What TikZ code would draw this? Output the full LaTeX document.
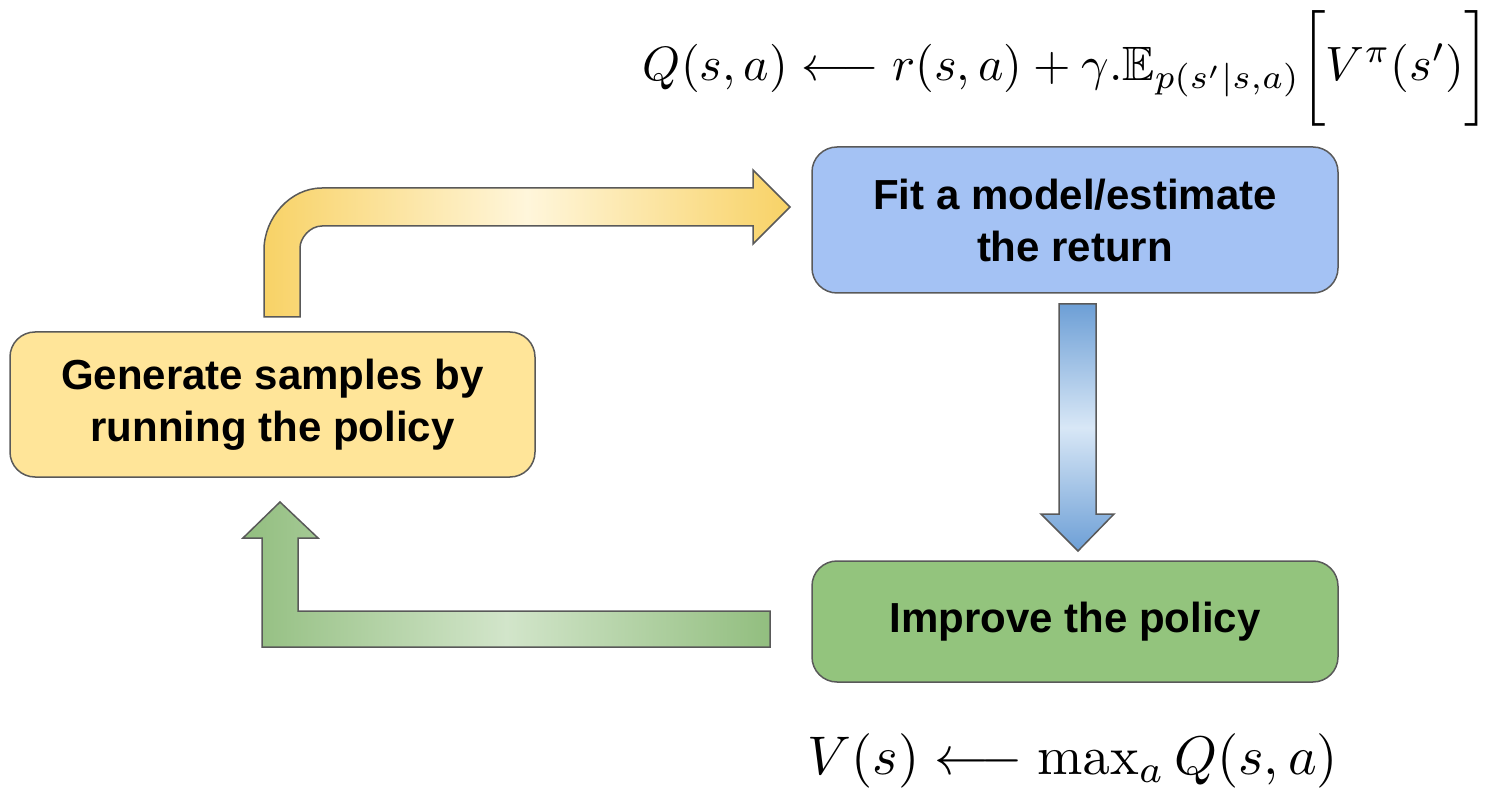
\documentclass[tikz,border=0pt]{standalone}
\usepackage{amsmath,amssymb}
\usepackage[no-math]{fontspec}
\setmainfont{Liberation Sans}
\usepackage{graphicx}

\definecolor{edge}{HTML}{595959}
\definecolor{boxyellow}{HTML}{FFE599}
\definecolor{boxblue}{HTML}{A4C2F4}
\definecolor{boxgreen}{HTML}{93C47D}
\definecolor{yelDark}{HTML}{F8D266}
\definecolor{yelLight}{HTML}{FFF6DB}
\definecolor{bluDark}{HTML}{6D9FD6}
\definecolor{bluLight}{HTML}{D8E7F6}
\definecolor{grnDark}{HTML}{92BE7F}
\definecolor{grnLight}{HTML}{D2E5CA}

\tikzset{
  stepbox/.style={draw=edge, line width=0.75pt, rounded corners=12.5pt,
    align=center, inner sep=0pt,
    font=\fontsize{21}{26}\selectfont\bfseries},
  blockarrow/.style={draw=edge, line width=0.75pt, line join=miter},
}

\begin{document}
\begin{tikzpicture}[x=0.5pt, y=-0.5pt]
  \useasboundingbox (0,0) rectangle (1495,791);

  % the three stages of the loop
  \node[stepbox, fill=boxyellow, minimum width=262.5pt, minimum height=72.5pt]
    (gen) at (272.5,404.5) {Generate samples by\\running the policy};
  \node[stepbox, fill=boxblue, minimum width=263pt, minimum height=73pt]
    (fit) at (1075,220) {Fit a model/estimate\\the return};
  \node[stepbox, fill=boxgreen, minimum width=263pt, minimum height=60.5pt]
    (imp) at (1075,621.5) {Improve the policy};

  % sampling -> fitting (bent arrow)
  \draw[blockarrow, left color=yelDark, right color=yelDark, middle color=yelLight]
    (264,317) -- (264,250) .. controls (264,218) and (290,188) .. (322,188)
    -- (753,188) -- (753,170) -- (790,207) -- (753,244) -- (753,226)
    -- (322,226) .. controls (309.8,226) and (300,238.2) .. (300,248)
    -- (300,317) -- cycle;

  % fitting -> improving
  \draw[blockarrow, top color=bluDark, bottom color=bluDark, middle color=bluLight]
    (1059,304) -- (1096,304) -- (1096,514) -- (1114,514) -- (1078,551)
    -- (1041,514) -- (1059,514) -- cycle;

  % improving -> sampling
  \draw[blockarrow, left color=grnDark, right color=grnDark, middle color=grnLight]
    (770,611) -- (298,611) -- (298,538) -- (318,538) -- (280,502)
    -- (243,538) -- (262,538) -- (262,647) -- (770,647) -- cycle;

  % update rules
  \node[inner sep=0pt] (qeq) at (1066.5,68)
    {\resizebox{423.5pt}{!}{$Q(s,a) \longleftarrow r(s,a) + \gamma.\mathbb{E}_{p(s'|s,a)}\bigg[V^{\pi}(s')\bigg]$}};
  \node[inner sep=0pt] (veq) at (1073,761)
    {\resizebox{265pt}{!}{$V(s) \longleftarrow \max_a Q(s,a)$}};
\end{tikzpicture}
\end{document}
